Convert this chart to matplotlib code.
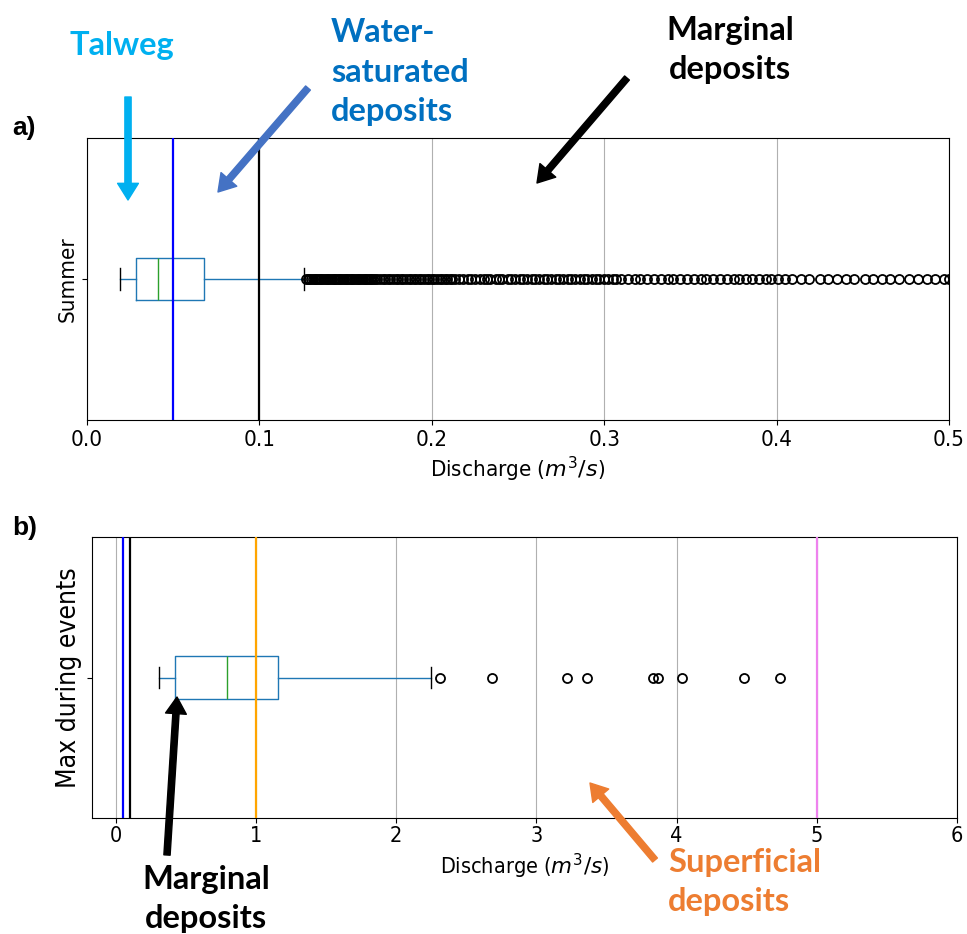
import matplotlib.pyplot as plt

# --- data ---
# a) summer discharge (m3/s)
summer_stats = dict(whislo=0.019, q1=0.0285, med=0.041, q3=0.068, whishi=0.126)
summer_fliers = [
    0.127, 0.128, 0.129, 0.130, 0.131, 0.132, 0.133, 0.134, 0.135, 0.136,
    0.137, 0.138, 0.139, 0.140, 0.141, 0.142, 0.143, 0.144, 0.145, 0.146,
    0.147, 0.148, 0.149, 0.150, 0.151, 0.152, 0.153, 0.154, 0.155, 0.156,
    0.157, 0.158, 0.159, 0.160, 0.161, 0.162, 0.163, 0.164, 0.165, 0.166,
    0.167,
    0.1685, 0.170, 0.1715, 0.173, 0.1745, 0.176, 0.1775, 0.179, 0.1805, 0.182,
    0.1835, 0.185, 0.1865, 0.188, 0.1895, 0.191, 0.1925, 0.194, 0.1955, 0.197,
    0.1985, 0.200, 0.2015, 0.203, 0.2045, 0.206, 0.2075, 0.209, 0.2105, 0.212,
    0.2135,
    0.216, 0.218, 0.221, 0.223, 0.225, 0.228, 0.230, 0.232, 0.234, 0.237,
    0.239, 0.241, 0.244, 0.246, 0.248, 0.251, 0.253, 0.255, 0.258, 0.260,
    0.262, 0.265, 0.267, 0.269, 0.272, 0.274, 0.276, 0.279, 0.281, 0.283,
    0.286, 0.288, 0.290, 0.293, 0.295, 0.297, 0.300, 0.302, 0.305, 0.307,
    0.310,
    0.314, 0.318, 0.321, 0.325, 0.329, 0.333, 0.337, 0.340, 0.344, 0.348,
    0.352, 0.356, 0.359, 0.363, 0.367, 0.371, 0.375, 0.378, 0.382, 0.386,
    0.390, 0.394, 0.397, 0.401, 0.405, 0.409,
    0.414, 0.419, 0.425, 0.430, 0.435, 0.440, 0.445, 0.451, 0.456, 0.461,
    0.466, 0.471, 0.477, 0.482, 0.487, 0.492, 0.497, 0.500, 0.507, 0.515,
]
summer_label = "Summer"
summer_lines = [0.05, 0.1]
summer_line_colors = ["blue", "black"]

# b) max discharge during events (m3/s)
events_stats = dict(whislo=0.31, q1=0.42, med=0.79, q3=1.16, whishi=2.245)
events_fliers = [2.31, 2.68, 3.22, 3.36, 3.83, 3.87, 4.04, 4.48, 4.74]
events_label = "Max during events"
events_lines = [0.05, 0.1, 1, 5]
events_line_colors = ["blue", "black", "orange", "violet"]

W, H = 967, 934
fig = plt.figure(figsize=(W / 100, H / 100), dpi=100)
ax1 = fig.add_axes([87 / W, 1 - 420 / H, (949 - 87) / W, (420 - 138) / H])
ax2 = fig.add_axes([92 / W, 1 - 818 / H, (957 - 92) / W, (818 - 537) / H])


def draw_box(ax, stats, fliers, label, vlines, vcolors, fs, yfs):
    st = dict(stats)
    st["fliers"] = fliers
    st["label"] = label
    ax.bxp([st], positions=[1], widths=0.15, orientation="horizontal",
           boxprops=dict(color="C0"), whiskerprops=dict(color="C0"),
           capprops=dict(color="k"), medianprops=dict(color="C2"),
           flierprops=dict(marker="o", markerfacecolor="none",
                           markeredgecolor="k", markersize=6.5,
                           markeredgewidth=1.3))
    for x, c in zip(vlines, vcolors):
        ax.axvline(x, color=c, lw=1.6, zorder=3)
    ax.grid(axis="x", color="#b0b0b0", lw=0.8)
    ax.set_axisbelow(True)
    ax.set_ylim(0.5, 1.5)
    ax.set_xlabel("Discharge ($m^3/s$)", fontsize=fs, fontstretch="condensed")
    ax.tick_params(labelsize=fs)
    for t in ax.get_yticklabels():
        t.set_rotation(90)
        t.set_va("center")
        t.set_fontsize(yfs)
        t.set_fontstretch("condensed")


draw_box(ax1, summer_stats, summer_fliers, summer_label,
         summer_lines, summer_line_colors, 16, 16)
ax1.set_xlim(0, 0.5)
ax1.set_xticks([0.0, 0.1, 0.2, 0.3, 0.4, 0.5])
ax1.set_xticklabels(["0.0", "0.1", "0.2", "0.3", "0.4", "0.5"],
                    fontstretch="condensed")

draw_box(ax2, events_stats, events_fliers, events_label,
         events_lines, events_line_colors, 15.5, 19)
ax2.set_xlim(-0.17, 6)
ax2.set_xticks(range(7))
ax2.set_xticklabels([str(i) for i in range(7)], fontstretch="condensed")
ax2.tick_params(axis="x", pad=2.5)


# --- annotations (image pixel coords, y from top) ---
def P(x, y):
    return (x, H - y)


afont = dict(family="Lato", weight="bold", fontsize=23.5)


def note(txt, x, y, color, ha="left", ma="left"):
    fig.text(x / W, 1 - y / H, txt, color=color, ha=ha, va="center",
             multialignment=ma, linespacing=1.42, **afont)


def arrow(tail, head, color):
    fig.add_artist(plt.Annotation(
        "", xy=P(*head), xytext=P(*tail), xycoords="figure pixels",
        textcoords="figure pixels",
        arrowprops=dict(width=4.5, headwidth=15, headlength=12,
                        color=color, shrink=0)))


fig.text(12 / W, 1 - 128 / H, "a)", fontsize=19, weight="bold",
         family="Liberation Sans", va="center")
fig.text(12 / W, 1 - 528 / H, "b)", fontsize=19, weight="bold",
         family="Liberation Sans", va="center")

note("Talweg", 122, 46, "#00B0F0", ha="center")
arrow((128, 97), (128, 200), "#00B0F0")

note("Water-\nsaturated\ndeposits", 331, 72, "#0070C0")
arrow((308, 88), (218, 192), "#4472C4")

note("Marginal\ndeposits", 730, 50, "black", ha="center", ma="center")
arrow((627, 78), (537, 183), "black")

note("Marginal\ndeposits", 206, 899, "black", ha="center", ma="center")
arrow((167, 855), (177, 697), "black")

note("Superficial\ndeposits", 668, 882, "#ED7D31")
arrow((655, 860), (590, 783), "#ED7D31")

fig.savefig("out.png", dpi=100)
